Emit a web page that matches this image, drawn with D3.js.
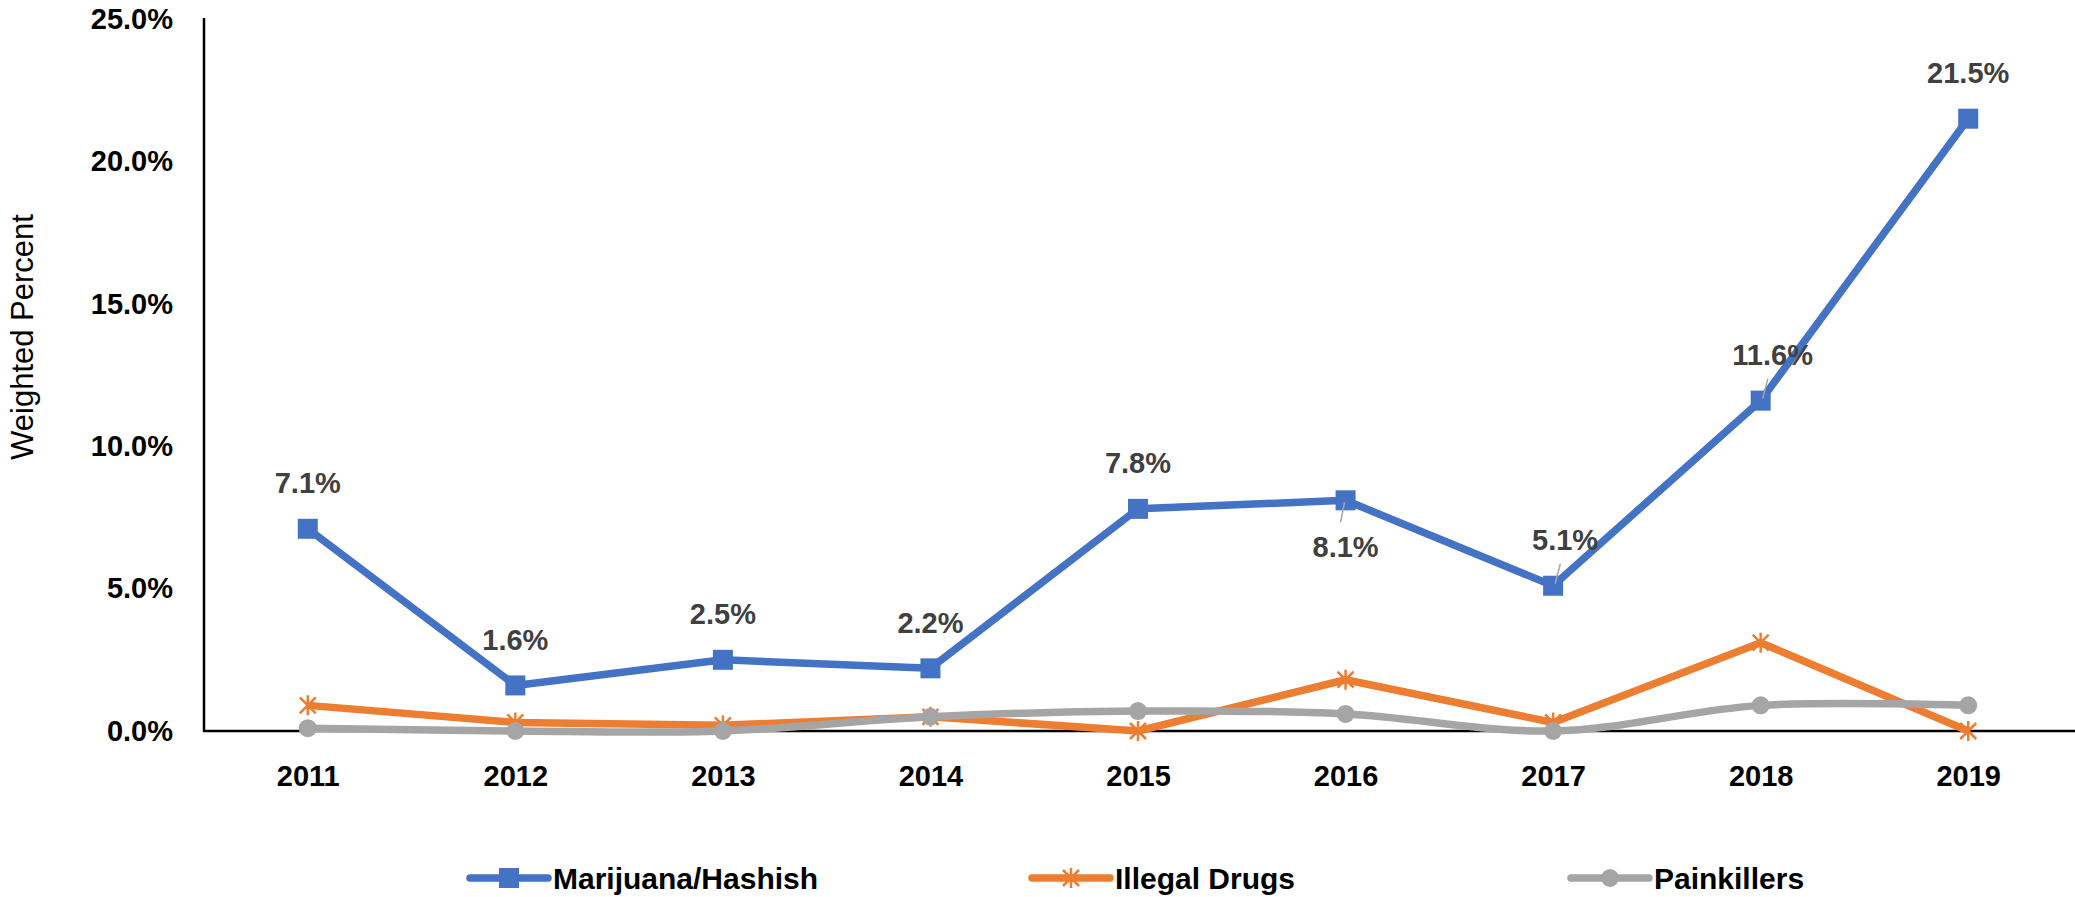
<!DOCTYPE html>
<html>
<head>
<meta charset="utf-8">
<script src="https://cdn.jsdelivr.net/npm/d3@7"></script>
<style>
  html, body { margin: 0; padding: 0; background: #ffffff; }
  svg { display: block; font-family: "Liberation Sans", Arial, sans-serif; }
</style>
</head>
<body>
<svg id="chart" width="2075" height="897"></svg>
<script>
// ---- Data ----
const years = ["2011", "2012", "2013", "2014", "2015", "2016", "2017", "2018", "2019"];
const marijuana = [7.1, 1.6, 2.5, 2.2, 7.8, 8.1, 5.1, 11.6, 21.5];
const illegalDrugs = [0.9, 0.3, 0.2, 0.5, 0.0, 1.8, 0.3, 3.1, 0.0];
const painkillers = [0.1, 0.0, 0.0, 0.5, 0.7, 0.6, 0.0, 0.9, 0.9];
const yTicks = [0, 5, 10, 15, 20, 25];
const seriesNames = ["Marijuana/Hashish", "Illegal Drugs", "Painkillers"];
const marijuanaLabelPlacement = ["above", "above", "above", "above", "above", "below", "aboveRight", "aboveRight", "above"];
const yAxisTitle = "Weighted Percent";

// ---- Layout ----
const svg = d3.select("#chart");
const colors = ["#4472C4", "#ED7D31", "#A5A5A5"];
const x = d3.scalePoint().domain(years).range([204, 2072]).padding(0.5);
const y = d3.scaleLinear().domain([0, 25]).range([731, 19]);
const fmt = v => v.toFixed(1) + "%";

// Y axis
const yAxis = svg.append("g").attr("transform", "translate(204,0)")
  .call(d3.axisLeft(y).tickValues(yTicks).tickSize(0).tickPadding(31).tickFormat(fmt));
yAxis.select(".domain").remove();
yAxis.selectAll("text").attr("font-size", 29).attr("font-weight", "bold").attr("fill", "#000")
  .attr("font-family", "Liberation Sans, Arial, sans-serif");

// X axis
const xAxis = svg.append("g").attr("transform", "translate(0,731)")
  .call(d3.axisBottom(x).tickSize(0).tickPadding(34));
xAxis.select(".domain").remove();
xAxis.selectAll("text").attr("font-size", 29).attr("font-weight", "bold").attr("fill", "#000")
  .attr("font-family", "Liberation Sans, Arial, sans-serif");

// axis lines
svg.append("line").attr("x1", 204).attr("x2", 204).attr("y1", 18).attr("y2", 732)
  .attr("stroke", "#000").attr("stroke-width", 2.5);
svg.append("line").attr("x1", 203).attr("x2", 2075).attr("y1", 731).attr("y2", 731)
  .attr("stroke", "#000").attr("stroke-width", 2.5);

// Y axis title
svg.append("text")
  .attr("transform", "translate(33,337) rotate(-90)")
  .attr("text-anchor", "middle")
  .attr("font-size", 31)
  .attr("fill", "#000")
  .text(yAxisTitle);

// ---- Series ----
const mData = years.map((yr, i) => ({ yr, v: marijuana[i] }));
const oData = years.map((yr, i) => ({ yr, v: illegalDrugs[i] }));
const gData = years.map((yr, i) => ({ yr, v: painkillers[i] }));

const lineStraight = d3.line().x(d => x(d.yr)).y(d => y(d.v));
const lineSmooth = d3.line().x(d => x(d.yr)).y(d => y(d.v)).curve(d3.curveCatmullRom.alpha(0.5));

function asteriskPath(s) {
  const r = s / 2;
  const d = r * 0.8;
  return `M${-d},${-d}L${d},${d}M${-d},${d}L${d},${-d}M0,${-r}L0,${r}`;
}

// Marijuana
svg.append("path").datum(mData).attr("d", lineStraight)
  .attr("fill", "none").attr("stroke", colors[0]).attr("stroke-width", 7.5).attr("stroke-linejoin", "round");
svg.append("g").selectAll("rect").data(mData).join("rect")
  .attr("x", d => x(d.yr) - 10).attr("y", d => y(d.v) - 10)
  .attr("width", 20).attr("height", 20).attr("fill", colors[0]);

// Illegal Drugs
svg.append("path").datum(oData).attr("d", lineStraight)
  .attr("fill", "none").attr("stroke", colors[1]).attr("stroke-width", 7.5).attr("stroke-linejoin", "round");
svg.append("g").selectAll("path").data(oData).join("path")
  .attr("transform", d => `translate(${x(d.yr)},${y(d.v)})`)
  .attr("d", asteriskPath(20)).attr("stroke", colors[1]).attr("stroke-width", 2.5).attr("fill", "none");

// Painkillers
svg.append("path").datum(gData).attr("d", lineSmooth)
  .attr("fill", "none").attr("stroke", colors[2]).attr("stroke-width", 7.5).attr("stroke-linecap", "round");
svg.append("g").selectAll("circle").data(gData).join("circle")
  .attr("cx", d => x(d.yr)).attr("cy", d => y(d.v)).attr("r", 9).attr("fill", colors[2]);

// Data labels for Marijuana
const labelOffsets = {
  above: { dx: 0, dy: -46, leader: false },
  below: { dx: 0, dy: 46, leader: true },
  aboveRight: { dx: 12, dy: -46, leader: true }
};
const labels = svg.append("g");
mData.forEach((d, i) => {
  const off = labelOffsets[marijuanaLabelPlacement[i]];
  const cx = x(d.yr), cy = y(d.v);
  if (off.leader) {
    const sgn = off.dy < 0 ? -1 : 1;
    labels.append("line")
      .attr("x1", cx + (off.dx ? 2 : -1)).attr("y1", cy + sgn * 2)
      .attr("x2", cx + (off.dx ? off.dx * 0.6 : -5)).attr("y2", cy + sgn * 22)
      .attr("stroke", "#A6A6A6").attr("stroke-width", 1.5);
  }
  labels.append("text")
    .attr("x", cx + off.dx).attr("y", cy + off.dy)
    .attr("dy", "0.36em")
    .attr("text-anchor", "middle")
    .attr("font-size", 29).attr("font-weight", "bold").attr("fill", "#404040")
    .text(fmt(d.v));
});

// ---- Legend ----
const legendX = [470, 1032, 1571];
const legendY = 878;
const legend = svg.append("g");
seriesNames.forEach((name, i) => {
  const g = legend.append("g").attr("transform", `translate(${legendX[i]},${legendY})`);
  g.append("line").attr("x1", 0).attr("x2", 78).attr("y1", 0).attr("y2", 0)
    .attr("stroke", colors[i]).attr("stroke-width", 7.5).attr("stroke-linecap", "round");
  if (i === 0) {
    g.append("rect").attr("x", 29).attr("y", -10).attr("width", 20).attr("height", 20).attr("fill", colors[0]);
  } else if (i === 1) {
    g.append("path").attr("transform", "translate(39,0)").attr("d", asteriskPath(20))
      .attr("stroke", colors[1]).attr("stroke-width", 2.5).attr("fill", "none");
  } else {
    g.append("circle").attr("cx", 39).attr("cy", 0).attr("r", 9).attr("fill", colors[2]);
  }
  g.append("text").attr("x", 83).attr("y", 0).attr("dy", "0.36em")
    .attr("font-size", 30).attr("font-weight", "bold").attr("fill", "#000")
    .text(name);
});
</script>
</body>
</html>
